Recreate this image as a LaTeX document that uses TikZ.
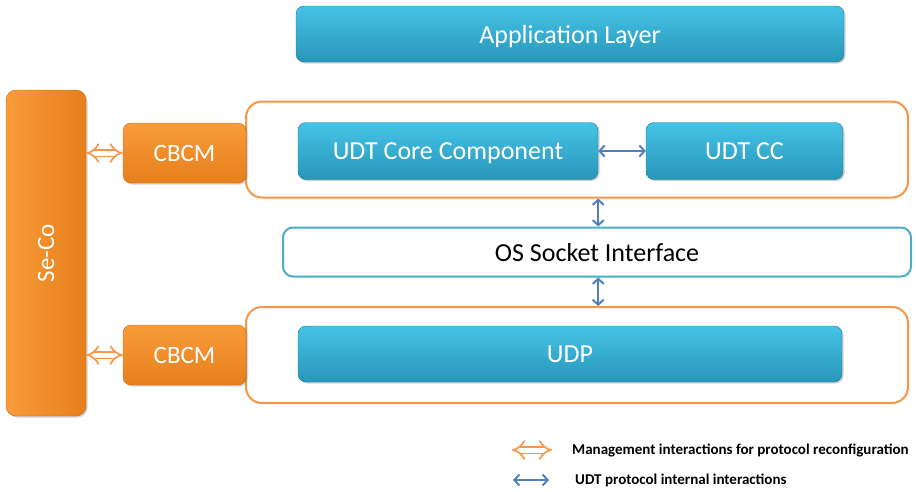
\documentclass[tikz,border=0pt]{standalone}
\usepackage{fontspec}
\setmainfont{Carlito}
\usetikzlibrary{arrows.meta,shadows}
\definecolor{cyantop}{HTML}{45C3E6}
\definecolor{cyanbot}{HTML}{2896B9}
\definecolor{orgtop}{HTML}{F99B3A}
\definecolor{orgbot}{HTML}{E67F1C}
\definecolor{orgline}{HTML}{F79646}
\definecolor{blueline}{HTML}{4BACC6}
\definecolor{arrowblue}{HTML}{4F81BD}
\tikzset{
  cyanbox/.style={rounded corners=8pt, inner sep=0pt, top color=cyantop, bottom color=cyanbot,
    draw=cyanbot!80!black, line width=0.4pt, text=white, font=\fontsize{26}{30}\selectfont,
    text depth=0pt,
    drop shadow={opacity=0.35, shadow xshift=1.5pt, shadow yshift=-1.5pt}},
  orgbox/.style={rounded corners=8pt, inner sep=0pt, top color=orgtop, bottom color=orgbot,
    draw=orgbot!85!black, line width=0.4pt, text=white, font=\fontsize{25}{30}\selectfont,
    text depth=0pt,
    drop shadow={opacity=0.35, shadow xshift=1.5pt, shadow yshift=-1.5pt}},
  outlinebox/.style={rounded corners=16pt, inner sep=0pt, draw=orgline, line width=2pt, fill=white},
  osbox/.style={rounded corners=10pt, inner sep=0pt, draw=blueline, line width=2pt, fill=white,
    font=\fontsize{26}{30}\selectfont, text depth=0pt},
  mgmtarrow/.style={draw=orgline, line width=1.7pt, double=white, double distance=5pt,
    {Implies[length=7pt]}-{Implies[length=7pt]}},
  intarrow/.style={draw=arrowblue, line width=2pt, {Straight Barb[length=5pt,width=11pt]}-{Straight Barb[length=5pt,width=11pt]}},
  legendtext/.style={anchor=west, inner sep=0pt, font=\bfseries\fontsize{15}{18}\selectfont}
}
\begin{document}
\begin{tikzpicture}[x=1pt,y=-1pt]
\useasboundingbox (0,0) rectangle (916,491);
% outlines
\node[outlinebox, minimum width=662pt, minimum height=96pt] (top) at (577,149.5) {};
\node[outlinebox, minimum width=662pt, minimum height=96pt] (bot) at (577,355) {};
% application layer
\node[cyanbox, minimum width=548pt, minimum height=56pt] (app) at (570,34) {Application Layer};
% Se-Co
\node[rounded corners=10pt, inner sep=0pt, left color=orgtop, right color=orgbot,
  draw=orgbot!85!black, line width=0.4pt, text=white,
  drop shadow={opacity=0.35, shadow xshift=1.5pt, shadow yshift=-1.5pt},
  minimum width=80pt, minimum height=326pt] (seco) at (46,253) {};
\node[text=white, rotate=90, font=\fontsize{25}{30}\selectfont, text depth=0pt] (secolabel) at (seco.center) {Se-Co};
% CBCM boxes
\node[orgbox, minimum width=123pt, minimum height=60pt] (cbcm1) at (184.5,153) {CBCM};
\node[orgbox, minimum width=123pt, minimum height=60pt] (cbcm2) at (184.5,355) {CBCM};
% UDT boxes
\node[cyanbox, minimum width=300pt, minimum height=57pt] (core) at (448,151) {UDT Core Component};
\node[cyanbox, minimum width=197pt, minimum height=57pt] (cc) at (744.5,151) {UDT CC};
\node[cyanbox, minimum width=544pt, minimum height=56pt] (udp) at (570,354) {UDP};
% OS socket
\node[osbox, minimum width=628pt, minimum height=49pt] (os) at (597,252) {OS Socket Interface};
% arrows
\draw[intarrow] (core.east) -- (cc.west);
\draw[intarrow] (top.south -| core.east) -- (os.north -| core.east);
\draw[intarrow] (os.south -| core.east) -- (bot.north -| core.east);
\draw[mgmtarrow] (seco.east |- cbcm1.west) -- (cbcm1.west);
\draw[mgmtarrow] (seco.east |- cbcm2.west) -- (cbcm2.west);
% legend
\coordinate (l1a) at (512,450);
\coordinate (l1b) at (552,450);
\coordinate (l2a) at (513,480);
\coordinate (l2b) at (549,480);
\draw[mgmtarrow] (l1a) -- (l1b);
\draw[intarrow] (l2a) -- (l2b);
\node[legendtext] (leg1) at (572,450) {Management interactions for protocol reconfiguration};
\node[legendtext] (leg2) at (575,480) {UDT protocol internal interactions};
\end{tikzpicture}
\end{document}
